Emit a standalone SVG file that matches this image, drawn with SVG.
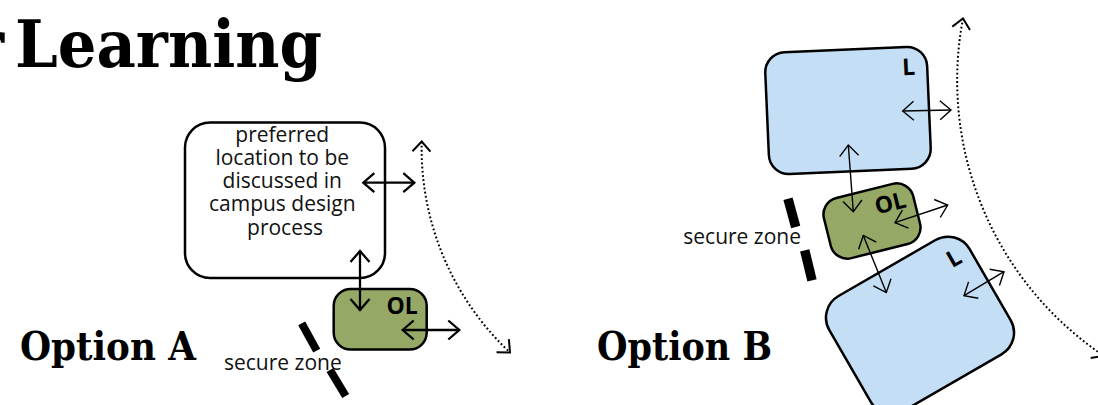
<svg xmlns="http://www.w3.org/2000/svg" width="1098" height="405" viewBox="0 0 1098 405">
<style>
.title{font-family:"DejaVu Serif","Liberation Serif",serif;font-weight:bold;fill:#000}
.lbl{font-family:"Open Sans","Noto Sans",sans-serif;fill:#111;font-size:21px}
.bold{font-family:"Open Sans","Noto Sans",sans-serif;font-weight:bold;font-size:23px;fill:#000}
.box{stroke:#000;stroke-width:2.5}
.white{fill:#fff}
.olive{fill:#96a866}
.blue{fill:#c4dff5}
.thick{stroke:#000;stroke-width:2.3;fill:none}
.thin{stroke:#000;stroke-width:1.4;fill:none}
.dot{stroke:#000;stroke-width:2;fill:none;stroke-dasharray:1.8 2.4}
.dash{stroke:#000;stroke-linecap:butt}
</style>
<defs>
<marker id="ahA" markerUnits="userSpaceOnUse" viewBox="-15 -15 30 30" markerWidth="30" markerHeight="30" refX="0" refY="0" orient="auto-start-reverse" overflow="visible">
<path d="M-11,-9.5 L0,0 L-11,9.5" fill="none" stroke="#000" stroke-width="2.3"/>
</marker>
<marker id="ahB" markerUnits="userSpaceOnUse" viewBox="-15 -15 30 30" markerWidth="30" markerHeight="30" refX="0" refY="0" orient="auto-start-reverse" overflow="visible">
<path d="M-11,-9.5 L0,0 L-11,9.5" fill="none" stroke="#000" stroke-width="1.4"/>
</marker>
<marker id="ahD" markerUnits="userSpaceOnUse" viewBox="-15 -15 30 30" markerWidth="30" markerHeight="30" refX="0" refY="0" orient="auto-start-reverse" overflow="visible">
<path d="M-10,-9 L0,0 L-10,9" fill="none" stroke="#000" stroke-width="2"/>
</marker>
</defs>

<g id="titles">
<text class="title" x="4" y="66.7" font-size="66" text-anchor="end">r</text>
<text class="title" x="15" y="66.7" font-size="66" textLength="307" lengthAdjust="spacingAndGlyphs">Learning</text>
<text class="title" x="20" y="360" font-size="40" textLength="176" lengthAdjust="spacingAndGlyphs">Option A</text>
<text class="title" x="597" y="360" font-size="40" textLength="175" lengthAdjust="spacingAndGlyphs">Option B</text>
</g>

<!-- Option A -->
<g id="a-preferred">
<rect class="box white" x="185" y="122.5" width="200" height="155.5" rx="25"/>
<text class="lbl" text-anchor="middle">
<tspan x="285" y="141.5">preferred</tspan>
<tspan x="285" y="164.8">location to be</tspan>
<tspan x="285" y="188.1">discussed in</tspan>
<tspan x="285" y="211.4">campus design</tspan>
<tspan x="285" y="234.7">process</tspan>
</text>
</g>
<g id="a-ol" transform="translate(380.2,319.3)">
<rect class="box olive" x="-46.5" y="-30.3" width="93" height="60.6" rx="17"/>
<text class="bold" x="22" y="-5" text-anchor="middle">OL</text>
</g>
<g id="a-secure">
<line class="dash" x1="301.7" y1="323.3" x2="316.7" y2="350.7" stroke-width="8"/>
<line class="dash" x1="330" y1="370" x2="345.7" y2="396" stroke-width="8"/>
<text class="lbl" x="224" y="370">secure zone</text>
</g>

<!-- Option B -->
<g id="b-l-top">
<rect class="box blue" x="-81" y="-61" width="162" height="122" rx="20" transform="translate(848,110.5) rotate(-2.5)"/>
<text class="bold" transform="translate(909,75) rotate(-2.5)" text-anchor="middle">L</text>
</g>
<g id="b-ol" transform="translate(872,221) rotate(-14)">
<rect class="box olive" x="-46" y="-31" width="92" height="62" rx="17"/>
<text class="bold" x="22" y="-5" text-anchor="middle">OL</text>
</g>
<g id="b-l-bottom">
<rect class="box blue" x="-81" y="-66" width="162" height="132" rx="25" transform="translate(920,325.2) rotate(-30)"/>
<text class="bold" transform="translate(954,258) rotate(-30)" x="0" y="8" text-anchor="middle">L</text>
</g>
<g id="b-secure">
<line class="dash" x1="788" y1="198.7" x2="795.7" y2="227" stroke-width="9.5"/>
<line class="dash" x1="804.7" y1="250.3" x2="812" y2="280.3" stroke-width="9.5"/>
<text class="lbl" x="683.3" y="244.3">secure zone</text>
</g>

<g id="connectors">
<path class="thick" d="M363.3,182.7 L414.3,182.7" marker-start="url(#ahA)" marker-end="url(#ahA)"/>
<path class="thick" d="M360,251 L360,310" marker-start="url(#ahA)" marker-end="url(#ahA)"/>
<path class="thick" d="M402.7,330 L459.3,330" marker-start="url(#ahA)" marker-end="url(#ahA)"/>
<path class="dot" d="M421.7,141.5 A280,280 0 0 0 510,352.5" marker-start="url(#ahD)" marker-end="url(#ahD)"/>

<path class="thin" d="M902.7,111 L951,110" marker-start="url(#ahB)" marker-end="url(#ahB)"/>
<path class="thin" d="M848.3,145 L853.3,211.7" marker-start="url(#ahB)" marker-end="url(#ahB)"/>
<path class="thin" d="M895,222.7 L947.7,205" marker-start="url(#ahB)" marker-end="url(#ahB)"/>
<path class="thin" d="M863.3,235.5 L886.3,292.5" marker-start="url(#ahB)" marker-end="url(#ahB)"/>
<path class="thin" d="M964,295.7 L1004,271.7" marker-start="url(#ahB)" marker-end="url(#ahB)"/>
<path class="dot" d="M963,18.5 A332,332 0 0 0 1104,356" marker-start="url(#ahD)" marker-end="url(#ahD)"/>
</g>
</svg>
